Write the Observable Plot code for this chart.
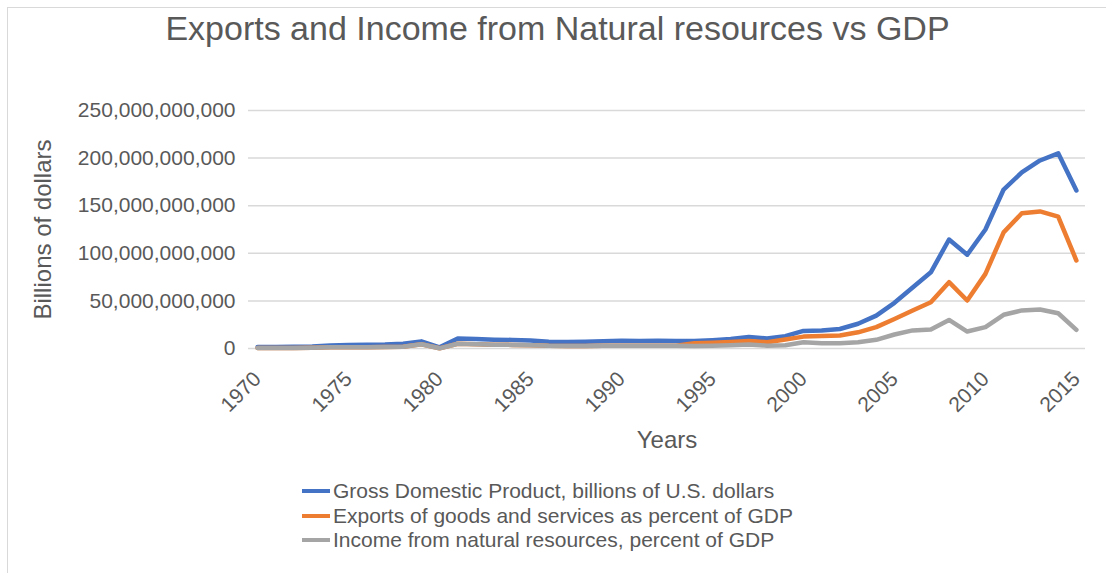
<!DOCTYPE html>
<html>
<head>
<meta charset="utf-8">
<script src="https://cdn.jsdelivr.net/npm/d3@7"></script>
<script src="https://cdn.jsdelivr.net/npm/@observablehq/plot@0.6"></script>
<style>
  html, body { margin: 0; padding: 0; background: #fff; }
  #wrap { position: relative; width: 1106px; height: 573px; overflow: hidden; font-family: "Liberation Sans", Arial, sans-serif; color: #595959; }
  #frame { position: absolute; left: 7px; top: 7px; width: 1200px; height: 700px; border-left: 1.5px solid #d9d9d9; border-top: 1.5px solid #d9d9d9; }
  #title { position: absolute; left: 0; top: 8px; width: 1115px; text-align: center; font-size: 34px; line-height: 40px; white-space: nowrap; }
  #chart { position: absolute; left: 0; top: 60px; }
  #legend { position: absolute; left: 302px; top: 479px; font-size: 21px; line-height: 24.5px; }
  .row { display: flex; align-items: center; white-space: nowrap; }
  .sw { width: 28px; height: 4px; margin-right: 3px; }
  #chart svg [aria-label="y-axis label"], #chart svg [aria-label="x-axis label"] { font-size: 24px; }
</style>
</head>
<body>
<div id="wrap">
  <div id="frame"></div>
  <div id="title">Exports and Income from Natural resources vs GDP</div>
  <div id="chart"></div>
  <div id="legend"></div>
</div>
<script>
const years = [1970,1971,1972,1973,1974,1975,1976,1977,1978,1979,
               1980,1981,1982,1983,1984,1985,1986,1987,1988,1989,
               1990,1991,1992,1993,1994,1995,1996,1997,1998,1999,
               2000,2001,2002,2003,2004,2005,2006,2007,2008,2009,
               2010,2011,2012,2013,2014,2015];
// values in billions of dollars
const gdp = [1.5,1.6,1.8,2.2,3.2,3.6,3.9,4.2,5.0,7.5,
             1.2,10.5,10.0,9.3,9.0,8.5,7.0,6.8,7.0,7.6,
             8.2,7.8,8.2,7.9,7.8,8.8,10.0,12.0,10.5,13.0,
             18.5,19.0,20.5,26.0,34.5,48.0,64.0,80.0,114.5,98.5,
             125.0,167.0,185.0,197.5,205.0,166.0];
const exportsPct = [0.4,0.4,0.5,0.7,1.2,1.3,1.4,1.5,1.8,4.5,
                    0.2,5.0,4.5,4.0,3.8,3.5,2.8,2.6,2.6,2.8,
                    3.0,2.8,3.0,2.8,5.5,6.0,6.8,8.0,6.6,9.5,
                    12.5,13.0,13.6,17.0,22.4,31.0,40.0,48.6,69.7,50.4,
                    78.4,122.0,142.0,144.0,138.6,92.4];
const income = [0.4,0.4,0.5,0.7,1.2,1.3,1.4,1.5,1.8,4.5,
                0.2,5.0,4.5,4.0,3.8,3.5,2.8,2.6,2.6,2.8,
                3.0,2.8,3.0,2.8,2.7,3.0,3.5,4.2,3.0,3.5,
                6.6,5.6,5.6,6.6,9.1,14.7,19.0,20.0,30.0,17.8,
                22.4,35.4,40.0,41.0,37.0,19.6];
const seriesNames = ["Gross Domestic Product, billions of U.S. dollars",
                     "Exports of goods and services as percent of GDP",
                     "Income from natural resources, percent of GDP"];
const seriesColors = ["#4472C4", "#ED7D31", "#A5A5A5"];
const xTicks = [1970,1975,1980,1985,1990,1995,2000,2005,2010,2015];
const yTicks = [0,50e9,100e9,150e9,200e9,250e9];

const seriesValues = [gdp, exportsPct, income];
const tables = seriesValues.map(vals => years.map((y, i) => ({year: y, value: vals[i] * 1e9})));

const chart = Plot.plot({
  width: 1106,
  height: 400,
  marginLeft: 248,
  marginRight: 21,
  marginTop: 50,
  marginBottom: 112,
  style: {fontFamily: "'Liberation Sans', Arial, sans-serif", fontSize: "21px", color: "#595959", background: "transparent", overflow: "visible"},
  x: {domain: [1969.5, 2015.5]},
  y: {domain: [0, 250e9]},
  marks: [
    Plot.gridY(yTicks, {stroke: "#d9d9d9", strokeOpacity: 1, strokeWidth: 1.5}),
    Plot.axisY(yTicks, {tickSize: 0, tickPadding: 13, tickFormat: d3.format(","), label: "Billions of dollars", labelAnchor: "center", labelArrow: "none", labelOffset: 215}),
    Plot.axisX(xTicks, {tickSize: 0, tickPadding: 27, tickRotate: -45, tickFormat: d => String(d), label: "Years", labelAnchor: "center", labelArrow: "none", labelOffset: 99}),
    ...tables.map((t, i) => Plot.lineY(t, {x: "year", y: "value", stroke: seriesColors[i], strokeWidth: 4.5, strokeLinejoin: "round", strokeLinecap: "round"}))
  ]
});
document.getElementById("chart").appendChild(chart);

const legend = document.getElementById("legend");
seriesNames.forEach((name, i) => {
  const row = document.createElement("div");
  row.className = "row";
  const sw = document.createElement("div");
  sw.className = "sw";
  sw.style.background = seriesColors[i];
  const tx = document.createElement("span");
  tx.textContent = name;
  row.appendChild(sw); row.appendChild(tx);
  legend.appendChild(row);
});
</script>
</body>
</html>
